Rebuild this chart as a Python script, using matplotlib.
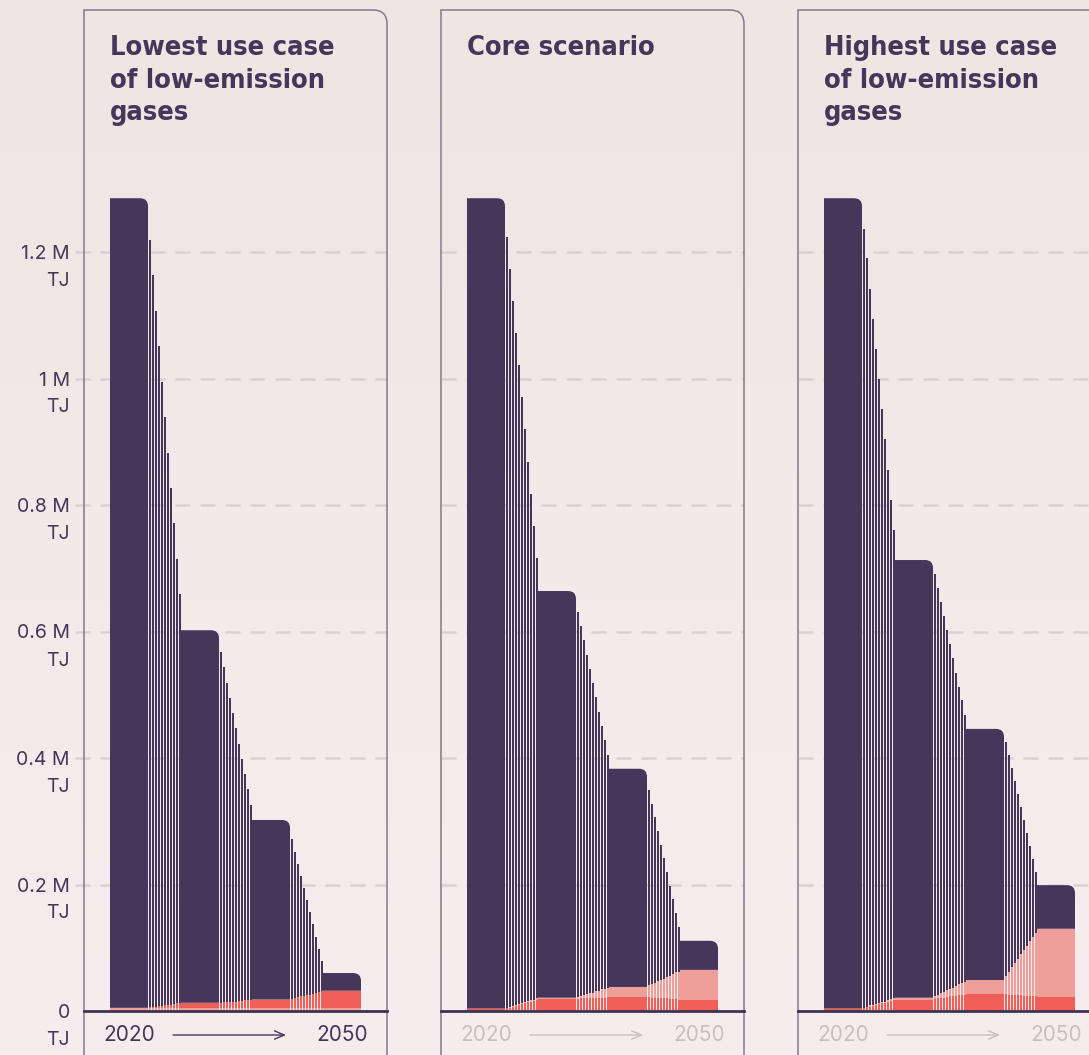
import matplotlib
matplotlib.use("Agg")
import matplotlib.pyplot as plt
import matplotlib.transforms as mtransforms
from matplotlib.path import Path
from matplotlib.patches import PathPatch
from matplotlib.colors import LinearSegmentedColormap
from matplotlib import font_manager
import numpy as np

# all values in thousand TJ
titles = ["Lowest use case\nof low-emission\ngases",
          "Core scenario",
          "Highest use case\nof low-emission\ngases"]
years = ["2020", "2030", "2040", "2050"]
ytick_vals = [0, 200, 400, 600, 800, 1000, 1200]
ytick_text = ["0", "0.2 M", "0.4 M", "0.6 M", "0.8 M", "1 M", "1.2 M"]

# totals for 2020/2030/2040/2050
low_total = [1285, 602, 302, 60]
low_red = [0, 8, 13, 27]
low_pink = [5, 5, 5, 5]
# thin "transition" bars, 11 per decade gap
low_total_steps = [1219, 1164, 1107, 1051, 994, 939, 882, 827, 772, 715, 659,
                   568, 544, 519, 495, 471, 447, 422, 398, 375, 351, 326,
                   272, 251, 232, 213, 194, 175, 157, 138, 117, 98, 79]
low_red_steps = [1, 1, 2, 3, 3, 4, 5, 5, 6, 7, 7,
                 8, 9, 9, 9, 10, 10, 11, 11, 12, 12, 13,
                 14, 15, 17, 18, 19, 20, 21, 22, 24, 25, 26]
low_pink_steps = [5] * 33

core_total = [1285, 664, 383, 111]
core_red = [3, 19, 22, 18]
core_pink = [1, 2, 16, 47]
core_total_steps = [1224, 1173, 1123, 1072, 1021, 971, 920, 868, 817, 767, 716,
                    631, 609, 587, 563, 541, 519, 496, 473, 451, 428, 405,
                    349, 327, 307, 285, 262, 242, 220, 198, 177, 155, 133]
core_red_steps = [4, 5, 7, 8, 10, 11, 12, 14, 15, 16, 18,
                  19, 20, 20, 20, 20, 20, 21, 21, 21, 21, 22,
                  22, 21, 21, 21, 20, 20, 20, 19, 19, 19, 18]
core_pink_steps = [1, 1, 1, 1, 1, 1, 2, 2, 2, 2, 2,
                   3, 4, 6, 7, 8, 9, 10, 11, 13, 14, 15,
                   19, 21, 24, 26, 29, 31, 34, 37, 39, 42, 44]

high_total = [1285, 713, 446, 199]
high_red = [3, 18, 27, 22]
high_pink = [1, 3, 22, 108]
high_total_steps = [1237, 1190, 1142, 1094, 1047, 999, 951, 904, 856, 808, 761,
                    691, 669, 646, 624, 602, 580, 558, 535, 513, 491, 468,
                    425, 405, 384, 364, 343, 322, 302, 281, 261, 240, 219]
high_red_steps = [4, 6, 7, 8, 9, 11, 12, 13, 14, 16, 17,
                  19, 20, 20, 21, 22, 23, 23, 24, 25, 26, 26,
                  27, 26, 26, 25, 25, 25, 24, 24, 23, 23, 23]
high_pink_steps = [1, 1, 2, 2, 2, 2, 2, 2, 3, 3, 3,
                   5, 6, 8, 9, 11, 12, 14, 16, 17, 19, 20,
                   29, 36, 44, 51, 58, 65, 72, 79, 87, 94, 101]

panels = [
    (low_total, low_red, low_pink, low_total_steps, low_red_steps, low_pink_steps, True),
    (core_total, core_red, core_pink, core_total_steps, core_red_steps, core_pink_steps, False),
    (high_total, high_red, high_pink, high_total_steps, high_red_steps, high_pink_steps, False),
]

DARK = "#45365a"
RED = "#f05f57"
PINK = "#ef9f99"
GRID = "#dcd1d0"
BORDER = "#85788d"
MUTED = "#c9bfc2"
TXT = "#45365a"

# look for a narrow bold face for the titles
title_prop = None
for f in font_manager.fontManager.ttflist:
    if f.name == "DejaVu Sans" and f.stretch == "condensed" and f.weight in (700, "bold"):
        title_prop = font_manager.FontProperties(fname=f.fname)
        break
if title_prop is None:
    for f in font_manager.fontManager.ttflist:
        if "Narrow" in f.name or "Condensed" in f.name:
            if f.weight in (700, "bold"):
                title_prop = font_manager.FontProperties(fname=f.fname)
                break
narrow = title_prop is not None
if title_prop is None:
    title_prop = font_manager.FontProperties(family="Roboto", weight="bold")

W, H = 1089, 1055
fig = plt.figure(figsize=(W / 100, H / 100), dpi=100)
fig.patch.set_facecolor("#f2e9e7")

# soft vertical background gradient
bg = fig.add_axes([0, 0, 1, 1])
grad = np.linspace(0, 1, 256).reshape(-1, 1)
cmap = LinearSegmentedColormap.from_list("bg", ["#efe5e3", "#f6eeee"])
bg.imshow(grad, aspect="auto", cmap=cmap, extent=[0, 1, 0, 1], origin="upper")
bg.set_axis_off()

px_per_k = 632.5 / 1000
base_px = 1011
top_px = 10
ymax = (base_px - top_px) / px_per_k
panel_left = [84, 441, 798]
panel_w = 303
wide = 38
pitch = 3.0
n_thin = 11
start = 26

label_font = ["Inter", "DejaVu Sans"]


def rounded_top(ax, x0, w, y0, y1, color, r):
    ry = r / px_per_k
    if y1 - y0 < ry:
        ry = y1 - y0
    verts = [(x0, y0), (x0, y1), (x0 + w - r, y1), (x0 + w, y1), (x0 + w, y1 - ry),
             (x0 + w, y0), (x0, y0)]
    codes = [Path.MOVETO, Path.LINETO, Path.LINETO, Path.CURVE3, Path.CURVE3,
             Path.LINETO, Path.CLOSEPOLY]
    ax.add_patch(PathPatch(Path(verts, codes), facecolor=color, edgecolor="none", zorder=3))


axes = []
for p, (tot, red, pink, tot_s, red_s, pink_s, active) in enumerate(panels):
    ax = fig.add_axes([panel_left[p] / W, (H - base_px) / H, panel_w / W, (base_px - top_px) / H])
    ax.set_xlim(0, panel_w)
    ax.set_ylim(0, ymax)
    ax.set_axis_off()
    ax.patch.set_alpha(0)
    axes.append(ax)

    # panel frame with rounded top-right corner
    yb = -(H - base_px) / px_per_k
    r = 14
    ry = r / px_per_k
    verts = [(0, yb), (0, ymax), (panel_w - r, ymax), (panel_w, ymax), (panel_w, ymax - ry), (panel_w, yb)]
    codes = [Path.MOVETO, Path.LINETO, Path.LINETO, Path.CURVE3, Path.CURVE3, Path.LINETO]
    ax.add_patch(PathPatch(Path(verts, codes), facecolor="none", edgecolor=BORDER, lw=1.1,
                           clip_on=False, zorder=1))

    # dashed grid
    gx0 = -9 if p == 0 else 0
    for v in ytick_vals[1:]:
        ax.plot([gx0, panel_w], [v, v], color=GRID, lw=1.8,
                dashes=(6, 4), clip_on=False, zorder=0.5)

    # order of the stacked low-emission parts
    if p == 0:
        parts = [(pink, pink_s, PINK), (red, red_s, RED)]
    else:
        parts = [(red, red_s, RED), (pink, pink_s, PINK)]

    for i in range(4):
        x0 = start + i * (wide + n_thin * pitch)
        bottom = 0
        for vals, _, col in parts:
            ax.bar(x0, vals[i], width=wide, bottom=bottom, align="edge", color=col,
                   edgecolor="none", zorder=3)
            bottom += vals[i]
        rounded_top(ax, x0, wide, bottom, tot[i], DARK, 8)

        if i < 3:
            for k in range(n_thin):
                j = i * n_thin + k
                xt = x0 + wide + 1.0 + k * pitch
                b = 0
                for _, svals, col in parts:
                    ax.bar(xt, svals[j], width=1.8, bottom=b, align="edge", color=col,
                           edgecolor="none", zorder=3)
                    b += svals[j]
                ax.bar(xt, tot_s[j] - b, width=1.8, bottom=b, align="edge", color=DARK,
                       edgecolor="none", zorder=3)

    # baseline
    ax.plot([0, panel_w], [0, 0], color="#3e3152", lw=2, clip_on=False, zorder=4)

    # title
    ax.text(start, (base_px - 35) / (base_px - top_px), titles[p],
            transform=mtransforms.blended_transform_factory(ax.transData, ax.transAxes),
            ha="left", va="top", fontproperties=title_prop,
            fontsize=19.5 if narrow else 17, color=TXT, linespacing=1.33)

    # time axis label
    col = TXT if active else MUTED
    tr = mtransforms.blended_transform_factory(ax.transData, ax.transAxes)
    ylab = -(1035 - base_px) / (base_px - top_px)
    x_first = start + wide / 2
    x_last = start + 3 * (wide + n_thin * pitch) + wide / 2
    ax.text(x_first, ylab, years[0], transform=tr, ha="center", va="center",
            fontsize=15, family=label_font, color=col)
    ax.text(x_last, ylab, years[-1], transform=tr, ha="center", va="center",
            fontsize=15, family=label_font, color=col)
    ax.annotate("", xy=(x_last - 56, ylab), xytext=(x_first + 44, ylab),
                xycoords=tr, textcoords=tr,
                arrowprops=dict(arrowstyle="->,head_length=0.7,head_width=0.3",
                                color=col, lw=1.0, shrinkA=0, shrinkB=0))

# y tick labels on the first panel
ax0 = axes[0]
trl = mtransforms.blended_transform_factory(ax0.transAxes, ax0.transData)
xl = -(84 - 70) / panel_w
below = mtransforms.offset_copy(trl, fig=fig, x=0, y=-29, units="dots")
up = mtransforms.offset_copy(trl, fig=fig, x=0, y=-2, units="dots")
for v, t in zip(ytick_vals, ytick_text):
    ax0.text(xl, v, t, transform=up, ha="right", va="center", fontsize=14,
             family=label_font, color=TXT)
    ax0.text(xl, v, "TJ", transform=below, ha="right", va="center", fontsize=14,
             family=label_font, color=TXT)

fig.savefig("out.png", dpi=100, facecolor=fig.get_facecolor())
